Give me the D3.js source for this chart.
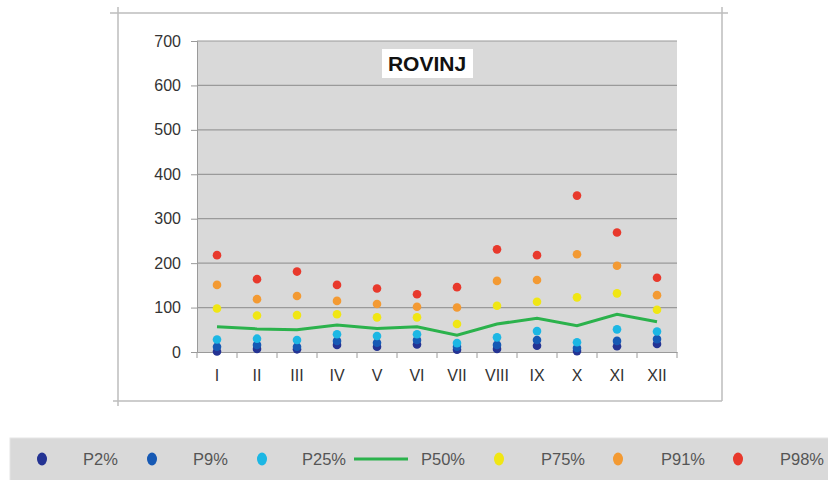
<!DOCTYPE html>
<html>
<head>
<meta charset="utf-8">
<script src="https://cdn.jsdelivr.net/npm/d3@7"></script>
<style>
  body { margin: 0; background: #fff; }
  svg { display: block; font-family: "Liberation Sans", Arial, sans-serif; }
</style>
</head>
<body>
<div class="canvas"></div>
<script>
const WIDTH = 828;
const HEIGHT = 480;

// data
const months = ['I', 'II', 'III', 'IV', 'V', 'VI', 'VII', 'VIII', 'IX', 'X', 'XI', 'XII'];
const yTicks = [0, 100, 200, 300, 400, 500, 600, 700];
const p2 = [1, 7, 6, 16, 12, 17, 5, 7, 14, 2, 13, 18];
const p9 = [12, 16, 12, 25, 21, 27, 12, 16, 27, 9, 25, 29];
const p25 = [28, 30, 27, 40, 36, 40, 20, 33, 47, 22, 51, 46];
const p50 = [57, 52, 50, 61, 53, 57, 38, 63, 76, 59, 85, 68];
const p75 = [98, 82, 83, 85, 78, 78, 63, 104, 113, 123, 132, 95];
const p91 = [151, 119, 126, 115, 108, 102, 100, 160, 162, 220, 194, 128];
const p98 = [218, 164, 181, 151, 143, 130, 146, 231, 218, 352, 269, 167];
const title = 'ROVINJ';

// colors
const navy = '#243393';
const blue = '#1659b4';
const cyan = '#1cb7e4';
const green = '#2bb24c';
const yellow = '#f0e614';
const orange = '#f39a33';
const red = '#e8392c';
const plotGray = '#d9d9d9';

const dotSeries = [
  { name: 'P2%', values: p2, color: navy },
  { name: 'P9%', values: p9, color: blue },
  { name: 'P25%', values: p25, color: cyan },
  { name: 'P75%', values: p75, color: yellow },
  { name: 'P91%', values: p91, color: orange },
  { name: 'P98%', values: p98, color: red }
];

const svg = d3.select('.canvas')
  .append('svg')
    .attr('width', WIDTH)
    .attr('height', HEIGHT);

// outer frame lines (cropped chart border)
const frame = svg.append('g')
  .attr('stroke', '#bdbdbd')
  .attr('stroke-width', 1.5);
frame.append('line').attr('x1', 110).attr('x2', 728).attr('y1', 13).attr('y2', 13);
frame.append('line').attr('x1', 118).attr('x2', 118).attr('y1', 7).attr('y2', 406);
frame.append('line').attr('x1', 722).attr('x2', 722).attr('y1', 7).attr('y2', 401);
frame.append('line').attr('x1', 113).attr('x2', 722).attr('y1', 401).attr('y2', 401);

const plot = { left: 197, right: 677, top: 41, bottom: 352 };

const x = d3.scaleBand()
  .domain(months)
  .range([plot.left, plot.right]);

const y = d3.scaleLinear()
  .domain([0, 700])
  .range([plot.bottom, plot.top]);

// plot background
svg.append('rect')
  .attr('x', plot.left)
  .attr('y', plot.top)
  .attr('width', plot.right - plot.left)
  .attr('height', plot.bottom - plot.top)
  .attr('fill', plotGray);

// gridlines
svg.append('g')
  .selectAll('line')
  .data(yTicks.filter(d => d > 0))
  .join('line')
    .attr('x1', plot.left)
    .attr('x2', plot.right)
    .attr('y1', d => y(d))
    .attr('y2', d => y(d))
    .attr('stroke', '#9a9a9a')
    .attr('stroke-width', 1.2);

// y axis
const yAxis = d3.axisLeft(y)
  .tickValues(yTicks)
  .tickSize(6)
  .tickPadding(10);

const yAxisGroup = svg.append('g')
  .attr('transform', `translate(${plot.left}, 0)`)
  .call(yAxis);
yAxisGroup.select('.domain').attr('stroke', '#9a9a9a');
yAxisGroup.selectAll('.tick line').attr('stroke', '#9a9a9a');
yAxisGroup.selectAll('text')
  .attr('font-size', 16)
  .attr('fill', '#333');

// x axis with ticks at band edges
const xAxisGroup = svg.append('g')
  .attr('transform', `translate(0, ${plot.bottom})`)
  .call(d3.axisBottom(x).tickSize(0).tickPadding(18));
xAxisGroup.select('.domain').attr('stroke', '#9a9a9a');
xAxisGroup.selectAll('text')
  .attr('font-size', 16)
  .attr('fill', '#333');
xAxisGroup.selectAll('.edge')
  .data(months.concat(['end']))
  .join('line')
    .attr('class', 'edge')
    .attr('x1', (d, i) => i < months.length ? x(d) : x.range()[1])
    .attr('x2', (d, i) => i < months.length ? x(d) : x.range()[1])
    .attr('y1', 0)
    .attr('y2', 6)
    .attr('stroke', '#9a9a9a');

// median line
const line = d3.line()
  .x((d, i) => x(months[i]) + x.bandwidth() / 2)
  .y(d => y(d));

svg.append('path')
  .datum(p50)
  .attr('fill', 'none')
  .attr('stroke', green)
  .attr('stroke-width', 3)
  .attr('d', line);

// dots
dotSeries.forEach(s => {
  svg.append('g')
    .selectAll('circle')
    .data(s.values)
    .join('circle')
      .attr('cx', (d, i) => x(months[i]) + x.bandwidth() / 2)
      .attr('cy', d => y(d))
      .attr('r', 4.3)
      .attr('fill', s.color);
});

// title box
const titleGroup = svg.append('g');
titleGroup.append('rect')
  .attr('x', 382)
  .attr('y', 49)
  .attr('width', 91)
  .attr('height', 29)
  .attr('fill', '#fff');
titleGroup.append('text')
  .attr('x', 427)
  .attr('y', 71)
  .attr('text-anchor', 'middle')
  .attr('font-size', 21)
  .attr('font-weight', 'bold')
  .attr('fill', '#111')
  .text(title);

// legend
svg.append('rect')
  .attr('x', 10)
  .attr('y', 438)
  .attr('width', 830)
  .attr('height', 50)
  .attr('fill', plotGray)
  .attr('stroke', '#e6e6e6');

const legendItems = [
  { name: 'P2%', color: navy, mark: 42, label: 83 },
  { name: 'P9%', color: blue, mark: 152, label: 193 },
  { name: 'P25%', color: cyan, mark: 262, label: 302 },
  { name: 'P50%', color: green, mark: 381, label: 421, line: true },
  { name: 'P75%', color: yellow, mark: 499, label: 541 },
  { name: 'P91%', color: orange, mark: 618, label: 661 },
  { name: 'P98%', color: red, mark: 738, label: 780 }
];

const legend = svg.append('g')
  .attr('transform', 'translate(0, 459)');

legendItems.forEach(item => {
  if (item.line) {
    legend.append('line')
      .attr('x1', item.mark - 27)
      .attr('x2', item.mark + 27)
      .attr('stroke', item.color)
      .attr('stroke-width', 3);
  } else {
    legend.append('ellipse')
      .attr('cx', item.mark)
      .attr('rx', 5)
      .attr('ry', 6.5)
      .attr('fill', item.color);
  }
  legend.append('text')
    .attr('x', item.label)
    .attr('dy', '0.36em')
    .attr('font-size', 16.5)
    .attr('fill', '#555')
    .text(item.name);
});
</script>
</body>
</html>
